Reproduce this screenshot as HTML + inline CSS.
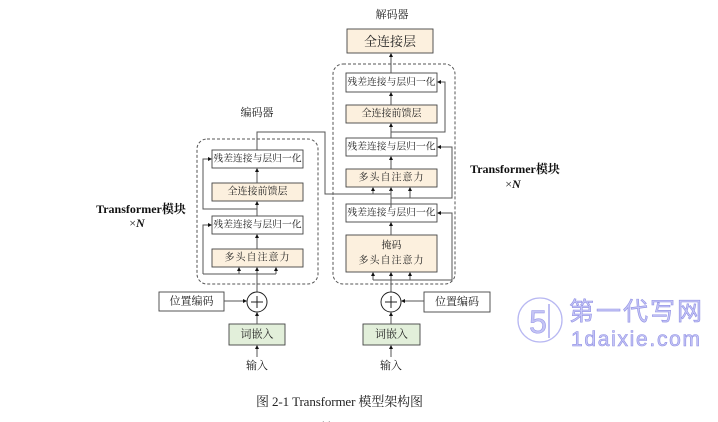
<!DOCTYPE html>
<html><head><meta charset="utf-8">
<style>
html,body{margin:0;padding:0;background:#fff;}
svg{display:block;}
.t{font-family:"Liberation Serif","Noto Serif CJK SC",serif;font-size:10px;fill:#222;text-anchor:middle;dominant-baseline:central;}
.l{stroke:#555;stroke-width:1;fill:none;}
.b{stroke:#444;stroke-width:0.9;}
</style></head><body>
<svg width="718" height="422" viewBox="0 0 718 422" xmlns="http://www.w3.org/2000/svg">
<rect width="718" height="422" fill="#fff"/>

<!-- labels -->
<text class="t" x="257" y="113" style="font-size:11px">编码器</text>
<text class="t" x="392" y="15" style="font-size:11px">解码器</text>

<!-- ENCODER -->
<rect x="197" y="139" width="121" height="145" rx="10" fill="none" stroke="#555" stroke-dasharray="3,2"/>
<rect class="b" x="212" y="150" width="91" height="18" fill="#fff"/>
<text class="t" x="257.5" y="159" style="font-size:9.8px">残差连接与层归一化</text>
<rect class="b" x="212" y="183" width="91" height="18" fill="#fcf0de"/>
<text class="t" x="257.5" y="192">全连接前馈层</text>
<rect class="b" x="212" y="216" width="91" height="18" fill="#fff"/>
<text class="t" x="257.5" y="225" style="font-size:9.8px">残差连接与层归一化</text>
<rect class="b" x="212" y="249" width="91" height="18" fill="#fcf0de"/>
<text class="t" x="257.5" y="258" style="letter-spacing:1px">多头自注意力</text>

<g class="l">
<path d="M257 292 V274"/>
<path d="M203 274 H276"/>
<path d="M239 274 V270 M257 274 V270 M276 274 V270"/>
<path d="M203 274 V225 H209"/>
<path d="M257 249 V237"/>
<path d="M257 216 V204"/>
<path d="M257 209 H203 V159 H209"/>
<path d="M257 183 V171"/>
<path d="M257 150 V132 H325 V194 H391"/>
<path d="M373 194 V190 M391 194 V190"/>
</g>
<g fill="#111">
<polygon points="239,267 237,271 241,271"/>
<polygon points="257,267 255,271 259,271"/>
<polygon points="276,267 274,271 278,271"/>
<polygon points="212,225 208,223 208,227"/>
<polygon points="257,234 255,238 259,238"/>
<polygon points="257,201 255,205 259,205"/>
<polygon points="212,159 208,157 208,161"/>
<polygon points="257,168 255,172 259,172"/>
<polygon points="373,187 371,191 375,191"/>
<polygon points="391,187 389,191 393,191"/>
</g>

<!-- DECODER -->
<rect class="b" x="347" y="29" width="86" height="24" fill="#fcf0de"/>
<text class="t" x="390" y="41.5" style="font-size:13px">全连接层</text>
<rect x="333" y="64" width="122" height="220" rx="10" fill="none" stroke="#555" stroke-dasharray="3,2"/>
<rect class="b" x="346" y="73" width="91" height="19" fill="#fff"/>
<text class="t" x="391.5" y="82.5" style="font-size:9.8px">残差连接与层归一化</text>
<rect class="b" x="346" y="105" width="91" height="18" fill="#fcf0de"/>
<text class="t" x="391.5" y="114">全连接前馈层</text>
<rect class="b" x="346" y="138" width="91" height="18" fill="#fff"/>
<text class="t" x="391.5" y="147" style="font-size:9.8px">残差连接与层归一化</text>
<rect class="b" x="346" y="169" width="91" height="18" fill="#fcf0de"/>
<text class="t" x="391.5" y="178" style="letter-spacing:1px">多头自注意力</text>
<rect class="b" x="346" y="204" width="91" height="18" fill="#fff"/>
<text class="t" x="391.5" y="213" style="font-size:9.8px">残差连接与层归一化</text>
<rect class="b" x="346" y="235" width="91" height="37" fill="#fcf0de"/>
<text class="t" x="391.5" y="246">掩码</text>
<text class="t" x="391.5" y="261" style="letter-spacing:1px">多头自注意力</text>

<g class="l">
<path d="M391 292 V280"/>
<path d="M373 280 H452 V213 H440"/>
<path d="M373 280 V275 M391 280 V275 M410 280 V275"/>
<path d="M391 235 V225"/>
<path d="M391 208 V190"/>
<path d="M391 198 H452 V147 H440"/>
<path d="M410 198 V190"/>
<path d="M391 169 V159"/>
<path d="M391 138 V126"/>
<path d="M391 132 H445 V82 H440"/>
<path d="M391 105 V95"/>
<path d="M391 73 V56"/>
</g>
<g fill="#111">
<polygon points="373,272 371,276 375,276"/>
<polygon points="391,272 389,276 393,276"/>
<polygon points="410,272 408,276 412,276"/>
<polygon points="437,213 441,211 441,215"/>
<polygon points="391,222 389,226 393,226"/>
<polygon points="410,187 408,191 412,191"/>
<polygon points="437,147 441,145 441,149"/>
<polygon points="391,156 389,160 393,160"/>
<polygon points="391,123 389,127 393,127"/>
<polygon points="437,82 441,80 441,84"/>
<polygon points="391,92 389,96 393,96"/>
<polygon points="391,53 389,57 393,57"/>
</g>

<!-- Transformer labels -->
<text x="141" y="213" text-anchor="middle" style="font-family:'Liberation Serif','Noto Serif CJK SC',serif;font-size:12px;font-weight:bold;fill:#111">Transformer模块</text>
<text x="137" y="227" text-anchor="middle" style="font-family:'Liberation Serif',serif;font-size:12px;fill:#111">×<tspan font-weight="bold" font-style="italic">N</tspan></text>
<text x="515" y="173" text-anchor="middle" style="font-family:'Liberation Serif','Noto Serif CJK SC',serif;font-size:12px;font-weight:bold;fill:#111">Transformer模块</text>
<text x="513" y="188" text-anchor="middle" style="font-family:'Liberation Serif',serif;font-size:12px;fill:#111">×<tspan font-weight="bold" font-style="italic">N</tspan></text>

<!-- bottom: encoder -->
<circle cx="257" cy="302" r="10" fill="#fff" stroke="#222" stroke-width="1"/>
<path d="M251 302 H263 M257 296 V308" stroke="#222" stroke-width="1"/>
<rect class="b" x="159" y="292" width="65" height="19" fill="#fff"/>
<text class="t" x="191.5" y="301.5" style="font-size:11px">位置编码</text>
<path class="l" d="M224 301 H243"/>
<polygon points="247,301 243,299 243,303" fill="#111"/>
<rect class="b" x="229" y="324" width="56" height="21" fill="#e2efda"/>
<text class="t" x="257" y="334.5" style="font-size:11px">词嵌入</text>
<path class="l" d="M257 324 V315"/>
<polygon points="257,312 255,316 259,316" fill="#111"/>
<path class="l" d="M257 357 V348"/>
<polygon points="257,345 255,349 259,349" fill="#111"/>
<text class="t" x="257" y="366" style="font-size:11px">输入</text>

<!-- bottom: decoder -->
<circle cx="391" cy="302" r="10" fill="#fff" stroke="#222" stroke-width="1"/>
<path d="M385 302 H397 M391 296 V308" stroke="#222" stroke-width="1"/>
<rect class="b" x="424" y="292" width="66" height="20" fill="#fff"/>
<text class="t" x="457" y="302" style="font-size:11px">位置编码</text>
<path class="l" d="M424 301 H405"/>
<polygon points="401,301 405,299 405,303" fill="#111"/>
<rect class="b" x="363" y="324" width="57" height="21" fill="#e2efda"/>
<text class="t" x="391.5" y="334.5" style="font-size:11px">词嵌入</text>
<path class="l" d="M391 324 V315"/>
<polygon points="391,312 389,316 393,316" fill="#111"/>
<path class="l" d="M391 357 V348"/>
<polygon points="391,345 389,349 393,349" fill="#111"/>
<text class="t" x="391" y="366" style="font-size:11px">输入</text>

<!-- watermark -->
<circle cx="540" cy="320" r="22" fill="none" stroke="#b8b8f2" stroke-width="1.3"/>
<text x="538" y="333" text-anchor="middle" style="font-family:'Liberation Sans',sans-serif;font-size:32px;fill:#c4c4f5;stroke:#9a9ae8;stroke-width:0.6">5</text>
<path d="M549 304 V338" stroke="#a8a8ee" stroke-width="1.5"/>
<text x="569" y="320" textLength="133" style="font-family:'Liberation Sans','Noto Sans CJK SC',sans-serif;font-size:25px;fill:#c6c6f6;stroke:#9090e4;stroke-width:0.6">第一代写网</text>
<text x="571" y="346" textLength="129" style="font-family:'Liberation Sans',sans-serif;font-size:21px;fill:#c6c6f6;stroke:#9090e4;stroke-width:0.6">1daixie.com</text>

<!-- caption -->
<text x="256" y="406" textLength="167" style="font-family:'Liberation Serif','Noto Serif CJK SC',serif;font-size:13px;fill:#222">图 2-1 Transformer 模型架构图</text>
<text x="326" y="430" text-anchor="middle" style="font-family:'Liberation Serif',serif;font-size:13px;fill:#222">11</text>
</svg>
</body></html>
